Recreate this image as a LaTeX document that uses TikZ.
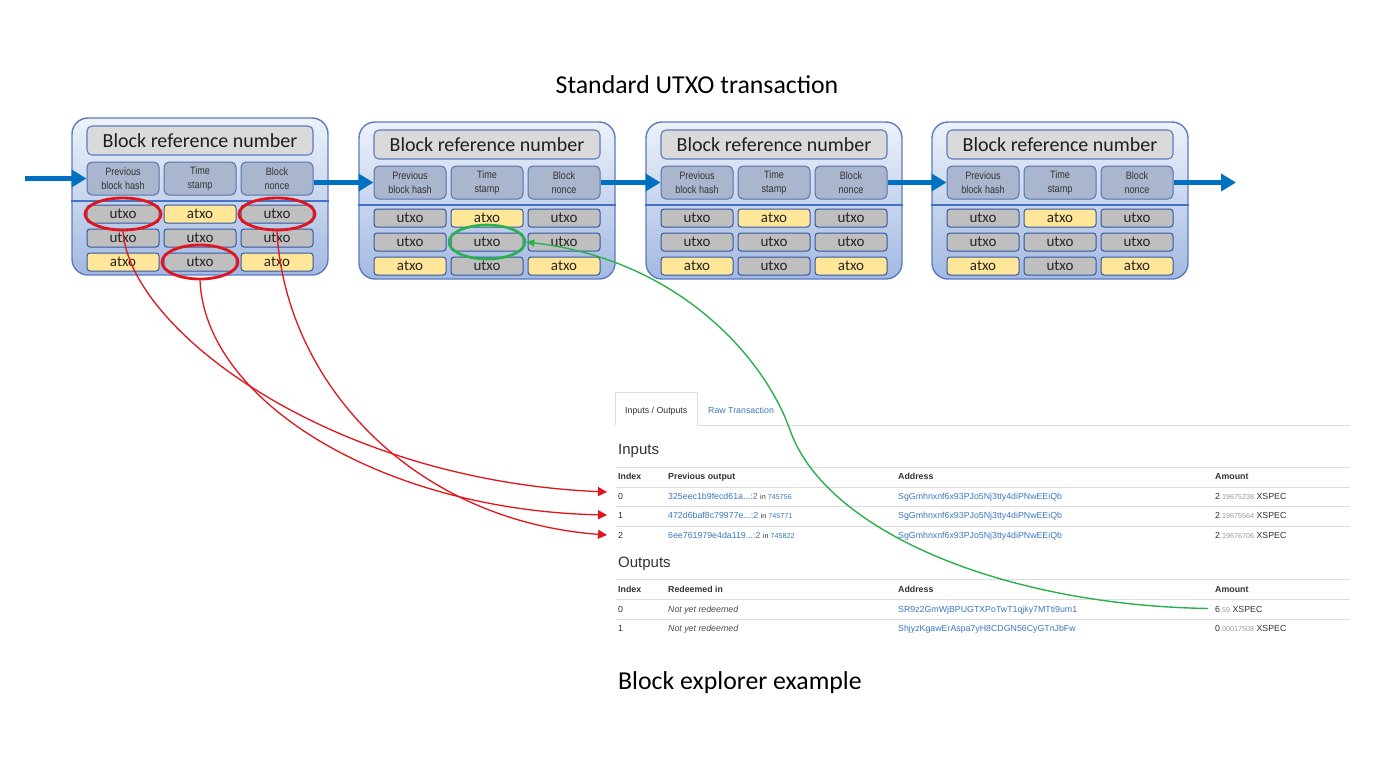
\documentclass[tikz,border=0pt]{standalone}
\usepackage{fontspec}
\setmainfont{Carlito}
\newfontfamily\tabfont{Liberation Sans}
\newfontfamily\narrowfont[FakeStretch=0.85]{Liberation Sans}
\usetikzlibrary{arrows.meta,shapes.geometric}
\definecolor{chainblue}{HTML}{0070C0}
\definecolor{blockedge}{HTML}{5B7CC2}
\definecolor{celledge}{HTML}{34589E}
\definecolor{hdredge}{HTML}{5572AE}
\definecolor{utxofill}{HTML}{BFBFBF}
\definecolor{atxofill}{HTML}{FFE699}
\definecolor{hdrfill}{HTML}{AAB6CD}
\definecolor{titlefill}{HTML}{DADADA}
\definecolor{sepblue}{HTML}{4472C4}
\definecolor{ringred}{HTML}{E2141C}
\definecolor{ringgreen}{HTML}{2BB04E}
\definecolor{linkblue}{HTML}{3A78C0}
\definecolor{tabtext}{HTML}{333333}
\definecolor{rulegray}{HTML}{DDDDDD}
\definecolor{smallgray}{HTML}{9A9A9A}
\definecolor{blocktop}{HTML}{EDF2FA}
\definecolor{blockmid}{HTML}{CBD8EF}
\definecolor{blockbot}{HTML}{A3B9E2}

\newcommand{\smallfs}{\fontsize{7.2}{8}\selectfont}

\newcommand{\chainblock}[3]{%
  \node[blockouter] (#1) at ({#2+128},{#3+78.5}) {};
  \draw[sepline] (#1.west |- {(0,#3+83)}) -- (#1.east |- {(0,#3+83)});
  \node[titlebox] (#1-t) at ({#2+128},{#3+22.5}) {Block reference number};
  \node[hdrbox] (#1-p) at ({#2+51},{#3+60.5}) {Previous\\block hash};
  \node[hdrbox] (#1-s) at ({#2+128},{#3+60.5}) {Time\\stamp};
  \node[hdrbox] (#1-n) at ({#2+205},{#3+60.5}) {Block\\nonce};
  \node[ubox] (#1-r1c1) at ({#2+51},{#3+96}) {utxo};
  \node[abox] (#1-r1c2) at ({#2+128},{#3+96}) {atxo};
  \node[ubox] (#1-r1c3) at ({#2+205},{#3+96}) {utxo};
  \node[ubox] (#1-r2c1) at ({#2+51},{#3+120}) {utxo};
  \node[ubox] (#1-r2c2) at ({#2+128},{#3+120}) {utxo};
  \node[ubox] (#1-r2c3) at ({#2+205},{#3+120}) {utxo};
  \node[abox] (#1-r3c1) at ({#2+51},{#3+144}) {atxo};
  \node[ubox] (#1-r3c2) at ({#2+128},{#3+144}) {utxo};
  \node[abox] (#1-r3c3) at ({#2+205},{#3+144}) {atxo};
}

\begin{document}
\begin{tikzpicture}[x=1pt,y=-1pt,
  blockouter/.style={draw=blockedge, line width=1.4pt, rounded corners=16pt,
    minimum width=256pt, minimum height=157pt, inner sep=0,
    top color=blocktop, middle color=blockmid, bottom color=blockbot},
  sepline/.style={draw=sepblue, line width=1.3pt},
  titlebox/.style={draw=blockedge, line width=1.1pt, fill=titlefill, rounded corners=5pt,
    minimum width=226pt, minimum height=29pt, inner sep=0,
    font=\fontsize{20}{22}\selectfont, text=black!88},
  hdrbox/.style={draw=hdredge, line width=1pt, fill=hdrfill, rounded corners=5pt,
    minimum width=72pt, minimum height=33pt, inner sep=0, align=center,
    font=\narrowfont\fontsize{10.7}{13.5}\selectfont, text=tabtext},
  ubox/.style={draw=celledge, line width=1pt, fill=utxofill, rounded corners=3pt,
    minimum width=72pt, minimum height=18pt, inner sep=0,
    font=\fontsize{15}{16}\selectfont, text=black!85},
  abox/.style={ubox, fill=atxofill},
  chainarrow/.style={draw=chainblue, line width=5pt, -{Triangle[length=15pt,width=17pt]}},
  redring/.style={ellipse, draw=ringred, line width=2.8pt, inner sep=0,
    minimum width=76pt, minimum height=32pt},
  greenring/.style={ellipse, draw=ringgreen, line width=2.6pt, inner sep=0,
    minimum width=76pt, minimum height=34pt},
  redlink/.style={draw=ringred, line width=1.3pt, -{Triangle[length=9pt,width=9pt]}},
  greenlink/.style={draw=ringgreen, line width=1.4pt, -{Triangle[length=8pt,width=7pt]}},
  tabtxt/.style={anchor=base west, inner sep=0, font=\tabfont\fontsize{8.8}{10}\selectfont, text=tabtext},
  tabhead/.style={tabtxt, font=\tabfont\bfseries\fontsize{8.8}{10}\selectfont},
  tablink/.style={tabtxt, text=linkblue},
  tabital/.style={tabtxt, font=\tabfont\itshape\fontsize{8.8}{10}\selectfont, text=black!70},
  tabh2/.style={anchor=base west, inner sep=0, font=\tabfont\fontsize{15}{18}\selectfont, text=tabtext},
  rule/.style={draw=rulegray, line width=0.8pt},
  bigtitle/.style={inner sep=0, font=\fontsize{25.8}{30}\selectfont, text=black}
]
\fill[white] (0,0) rectangle (1380,776);
\useasboundingbox (0,0) rectangle (1380,776);

% title
\node[bigtitle, anchor=base] (title) at (697,93) {Standard UTXO transaction};

% blocks
\chainblock{b1}{72}{118}
\chainblock{b2}{359}{122}
\chainblock{b3}{646}{122}
\chainblock{b4}{932}{122}

% chain arrows
\coordinate (inL) at (25,178.5);
\coordinate (outR) at (1236,182.5);
\draw[chainarrow] (inL) -- (b1-p.west);
\draw[chainarrow] (b1-n.east |- b2-p.west) -- (b2-p.west);
\draw[chainarrow] (b2-n.east) -- (b3-p.west);
\draw[chainarrow] (b3-n.east) -- (b4-p.west);
\draw[chainarrow] (b4-n.east) -- (outR);

% block explorer table
\draw[rule] (615,425) -- (615,392) -- (697,392) -- (697,425) -- (1350,425);
\node[tabtxt] (tabio) at (625,413) {Inputs / Outputs};
\node[tablink] (tabraw) at (708,413) {Raw Transaction};

\node[tabh2] (hin) at (618,454.5) {Inputs};
\draw[rule] (616,467) -- (1350,467);
\node[tabhead] (hi1) at (618,479) {Index};
\node[tabhead] (hi2) at (668,479) {Previous output};
\node[tabhead] (hi3) at (898,479) {Address};
\node[tabhead] (hi4) at (1215,479) {Amount};
\draw[rule] (616,487) -- (1350,487);
\node[tabtxt] (i0) at (618,499) {0};
\node[tablink] (p0) at (668,499) {325eec1b9fecd61a...:2 {\smallfs\color{tabtext}in \color{linkblue}745756}};
\node[tablink] (a0) at (898,499) {SgGmhnxnf6x93PJo5Nj3tty4diPNwEEiQb};
\node[tabtxt] (m0) at (1215,499) {2{\smallfs\color{smallgray}.19675238} XSPEC};
\draw[rule] (616,506) -- (1350,506);
\node[tabtxt] (i1) at (618,518.5) {1};
\node[tablink] (p1) at (668,518.5) {472d6baf8c79977e...:2 {\smallfs\color{tabtext}in \color{linkblue}745771}};
\node[tablink] (a1) at (898,518.5) {SgGmhnxnf6x93PJo5Nj3tty4diPNwEEiQb};
\node[tabtxt] (m1) at (1215,518.5) {2{\smallfs\color{smallgray}.19675564} XSPEC};
\draw[rule] (616,526) -- (1350,526);
\node[tabtxt] (i2) at (618,538) {2};
\node[tablink] (p2) at (668,538) {6ee761979e4da119...:2 {\smallfs\color{tabtext}in \color{linkblue}745822}};
\node[tablink] (a2) at (898,538) {SgGmhnxnf6x93PJo5Nj3tty4diPNwEEiQb};
\node[tabtxt] (m2) at (1215,538) {2{\smallfs\color{smallgray}.19676706} XSPEC};

\node[tabh2] (hout) at (618,567.5) {Outputs};
\draw[rule] (616,579) -- (1350,579);
\node[tabhead] (ho1) at (618,592) {Index};
\node[tabhead] (ho2) at (668,592) {Redeemed in};
\node[tabhead] (ho3) at (898,592) {Address};
\node[tabhead] (ho4) at (1215,592) {Amount};
\draw[rule] (616,599) -- (1350,599);
\node[tabtxt] (o0) at (618,612) {0};
\node[tabital] (r0) at (668,612) {Not yet redeemed};
\node[tablink] (oa0) at (898,612) {SR9z2GmWjBPUGTXPoTwT1qjky7MTti9um1};
\node[tabtxt] (om0) at (1215,612) {6{\smallfs\color{smallgray}.59} XSPEC};
\draw[rule] (616,619) -- (1350,619);
\node[tabtxt] (o1) at (618,631) {1};
\node[tabital] (r1) at (668,631) {Not yet redeemed};
\node[tablink] (oa1) at (898,631) {ShjyzKgawErAspa7yH8CDGN56CyGTnJbFw};
\node[tabtxt] (om1) at (1215,631) {0{\smallfs\color{smallgray}.00017508} XSPEC};

\node[bigtitle, anchor=base west] (explorer) at (618,689) {Block explorer example};

% rings
\node[redring] (e1) at (b1-r1c1) {};
\node[redring] (e3) at (b1-r1c3) {};
\node[redring, minimum height=34pt] (e2) at (b1-r3c2) {};
\node[greenring] (g1) at (b2-r2c2) {};

% red links from spent outputs to inputs
\coordinate (tgt0) at (607,492);
\coordinate (tgt1) at (607,515);
\coordinate (tgt2) at (607,535);
\draw[redlink] (e1.south) .. controls (130,330) and (330,480) .. (tgt0);
\draw[redlink] (e2.south) .. controls (205,400) and (380,510) .. (tgt1);
\draw[redlink] (e3.south) .. controls (285,380) and (410,520) .. (tgt2);

% green link from new output back to the block
\coordinate (gstart) at (1208,608.5);
\coordinate (gmid) at (790,430);
\draw[greenlink] (gstart) .. controls (1000,605) and (825,530) .. (gmid)
  .. controls (765,359) and (680,260) .. (g1.east);
\end{tikzpicture}
\end{document}
